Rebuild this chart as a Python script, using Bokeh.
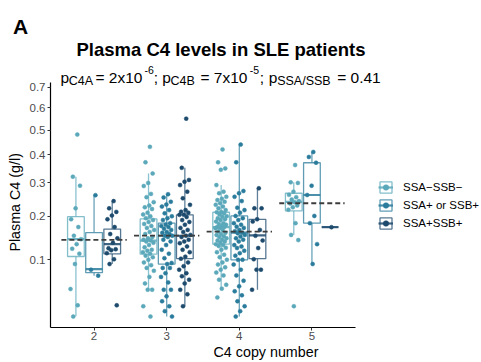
import numpy as np
from bokeh.embed import file_html
from bokeh.models import (ColumnDataSource, CustomJSTickFormatter, FixedTicker, Label,
                          Legend, LegendItem, Range1d)
from bokeh.plotting import figure
from bokeh.resources import INLINE

copy_numbers = [2, 3, 4, 5]
group_labels = ["SSA\u2212SSB\u2212", "SSA+ or SSB+", "SSA+SSB+"]
y_tick_values = [0.1, 0.2, 0.3, 0.4, 0.5, 0.6, 0.7]

# Plasma C4 (g/l) of individual patients, by antibody status and C4 copy number
neg_cn2 = [0.481, 0.321, 0.291, 0.222, 0.192, 0.172, 0.151, 0.143, 0.132, 0.122, 0.112,
           0.092, 0.052, 0.032, 0.021]
neg_cn3 = [0.431, 0.372, 0.332, 0.30, 0.29, 0.265, 0.255, 0.24, 0.23, 0.225, 0.22, 0.21,
           0.205, 0.20, 0.195, 0.19, 0.185, 0.18, 0.175, 0.17, 0.165, 0.16, 0.155, 0.148,
           0.145, 0.142, 0.14, 0.138, 0.135, 0.13, 0.125, 0.12, 0.118, 0.115, 0.112, 0.108,
           0.105, 0.10, 0.095, 0.09, 0.085, 0.08, 0.07, 0.06, 0.051, 0.051, 0.031, 0.021]
neg_cn4 = [0.421, 0.372, 0.35, 0.345, 0.293, 0.272, 0.267, 0.256, 0.25, 0.246, 0.241, 0.237,
           0.232, 0.227, 0.222, 0.217, 0.212, 0.211, 0.208, 0.205, 0.2, 0.199, 0.195, 0.192,
           0.19, 0.186, 0.182, 0.18, 0.178, 0.175, 0.172, 0.172, 0.17, 0.169, 0.165, 0.161,
           0.158, 0.155, 0.153, 0.15, 0.148, 0.145, 0.142, 0.14, 0.138, 0.135, 0.132, 0.13,
           0.128, 0.124, 0.12, 0.115, 0.11, 0.105, 0.1, 0.095, 0.091, 0.086, 0.082, 0.077,
           0.0724, 0.0656, 0.058, 0.0525, 0.041]
neg_cn5 = [0.362, 0.302, 0.3, 0.272, 0.262, 0.255, 0.248, 0.243, 0.24, 0.236, 0.23, 0.225,
           0.218, 0.182, 0.153, 0.141, 0.031]

one_cn2 = [0.261, 0.082, 0.072]
one_cn3 = [0.264, 0.254, 0.241, 0.233, 0.227, 0.217, 0.208, 0.200, 0.195, 0.19, 0.182, 0.178,
           0.175, 0.172, 0.168, 0.165, 0.16, 0.158, 0.155, 0.151, 0.151, 0.148, 0.142, 0.138,
           0.13, 0.12, 0.112, 0.103, 0.094, 0.092, 0.085, 0.085, 0.076, 0.07, 0.0615, 0.051,
           0.051, 0.0424, 0.0365, 0.031, 0.026, 0.021]
one_cn4 = [0.44, 0.372, 0.274, 0.267, 0.256, 0.243, 0.224, 0.217, 0.21, 0.201, 0.195, 0.19,
           0.182, 0.178, 0.173, 0.17, 0.165, 0.162, 0.158, 0.157, 0.153, 0.149, 0.145, 0.142,
           0.138, 0.13, 0.127, 0.1235, 0.118, 0.113, 0.108, 0.1, 0.0999, 0.091, 0.082, 0.0724,
           0.064, 0.0557, 0.0489, 0.0437, 0.0365, 0.031, 0.026, 0.021]
one_cn5 = [0.411, 0.392, 0.3705, 0.291, 0.2615, 0.201, 0.182, 0.132, 0.092]

both_cn2 = [0.243, 0.222, 0.212, 0.202, 0.192, 0.172, 0.155, 0.145, 0.135, 0.123, 0.121,
            0.119, 0.113, 0.101, 0.092, 0.032]
both_cn3 = [0.55, 0.352, 0.31, 0.304, 0.293, 0.272, 0.2515, 0.232, 0.217, 0.2126, 0.21, 0.204,
            0.204, 0.198, 0.19, 0.185, 0.178, 0.17, 0.165, 0.16, 0.153, 0.151, 0.148, 0.142,
            0.138, 0.134, 0.127, 0.12, 0.115, 0.106, 0.102, 0.095, 0.088, 0.082, 0.076, 0.071,
            0.0656, 0.06, 0.051, 0.045, 0.031]
both_cn4 = [0.2825, 0.222, 0.222, 0.192, 0.186, 0.165, 0.151, 0.14, 0.1235, 0.101, 0.082,
            0.082, 0.051]
both_cn5 = [0.1717]

# Box-plot summaries (g/l), one entry per copy number 2..5
neg_lower = [0.0213, 0.051, 0.0525, 0.153]
neg_q1 = [0.1063, 0.111, 0.132, 0.2147]
neg_median = [0.143, 0.140, 0.172, 0.241]
neg_q3 = [0.199, 0.193, 0.211, 0.267]
neg_upper = [0.321, 0.332, 0.293, 0.302]

one_lower = [0.0719, 0.021, 0.021, 0.092]
one_q1 = [0.0768, 0.092, 0.0999, 0.182]
one_median = [0.083, 0.151, 0.1585, 0.2615]
one_q3 = [0.1585, 0.182, 0.201, 0.3705]
one_upper = [0.261, 0.264, 0.44, 0.411]

both_lower = [0.092, 0.031, 0.051, 0.1717]
both_q1 = [0.1117, 0.102, 0.102, 0.1717]
both_median = [0.132, 0.151, 0.152, 0.1717]
both_q3 = [0.167, 0.204, 0.192, 0.1717]
both_upper = [0.243, 0.352, 0.2825, 0.1717]

# Median of all patients with a given copy number
overall_median = [0.1416, 0.1515, 0.161, 0.2367]

points = [[neg_cn2, neg_cn3, neg_cn4, neg_cn5],
          [one_cn2, one_cn3, one_cn4, one_cn5],
          [both_cn2, both_cn3, both_cn4, both_cn5]]
boxes = [(neg_lower, neg_q1, neg_median, neg_q3, neg_upper),
         (one_lower, one_q1, one_median, one_q3, one_upper),
         (both_lower, both_q1, both_median, both_q3, both_upper)]

colors = ["#5aa8ba", "#2b7c9c", "#1d4a6d"]
dodge = [-0.25, 0.0, 0.25]
box_width = 0.23
jitter_width = 0.08
FONT = "Liberation Sans"

sq = np.sqrt  # the value axis uses a square-root scale

# Panel extent: x 1.4..5.6 and sqrt(C4) 0.112..0.851. The frame is stretched to the
# right edge and up to the tag strip so that titles and legend can sit inside it.
W, H = 481, 362
FL, FB, TOP = 50, 328, 37
X0, X1 = 1.4, 5.6
Y0, Y1 = 0.112, 0.851
XPU = (355 - FL) / (X1 - X0)
YPU = (FB - 82) / (Y1 - Y0)

p = figure(width=W, height=H, output_backend="svg", toolbar_location=None,
           x_range=Range1d(X0, X0 + (W - FL) / XPU),
           y_range=Range1d(Y0, Y0 + (FB - TOP) / YPU),
           min_border_left=FL, min_border_right=0, min_border_top=TOP,
           min_border_bottom=H - FB)
p.outline_line_color = None
p.xgrid.visible = False
p.ygrid.visible = False
p.background_fill_color = "white"
p.border_fill_color = "white"

# panel tag
p.title.text = "A"
p.title.text_font = FONT
p.title.text_font_size = "21px"
p.title.text_font_style = "bold"
p.title.text_color = "black"
p.title.align = "left"
p.title.offset = 12.5 - FL
p.title.standoff = 0

legend_items = []
for k in range(3):
    lower, q1, med, q3, upper = boxes[k]
    xs = [c + dodge[k] for c in copy_numbers]
    src = ColumnDataSource(dict(
        x=xs,
        left=[x - box_width / 2 for x in xs],
        right=[x + box_width / 2 for x in xs],
        lo=sq(lower), q1=sq(q1), med=sq(med), q3=sq(q3), hi=sq(upper)))
    p.segment(x0="x", y0="q3", x1="x", y1="hi", source=src, line_color=colors[k],
              line_alpha=0.7, line_width=1.3)
    p.segment(x0="x", y0="lo", x1="x", y1="q1", source=src, line_color=colors[k],
              line_alpha=0.7, line_width=1.3)
    box_r = p.vbar(x="x", width=box_width, bottom="q1", top="q3", source=src,
                   fill_color="white", line_color=colors[k], line_alpha=0.75,
                   line_width=1.3)
    med_r = p.segment(x0="left", y0="med", x1="right", y1="med", source=src,
                      line_color=colors[k], line_alpha=0.85, line_width=2.2)

    # jittered patients: deterministic golden-ratio spread across the box
    px, py = [], []
    for c, vals in zip(copy_numbers, points[k]):
        for i, v in enumerate(vals):
            frac = ((i + 1) * 0.6180339887) % 1.0
            px.append(c + dodge[k] + (frac - 0.5) * 2 * jitter_width)
            py.append(float(sq(v)))
    pts_r = p.scatter(px, py, size=4, fill_color=colors[k], line_color=colors[k],
                      line_width=0.5)
    legend_items.append(LegendItem(label=group_labels[k], renderers=[box_r, med_r, pts_r]))

# dashed line: median of each copy-number group
p.segment(x0=[c - 0.45 for c in copy_numbers], x1=[c + 0.45 for c in copy_numbers],
          y0=sq(overall_median), y1=sq(overall_median), line_color="#3c3c3c",
          line_width=1.8, line_dash="5 3")

# axes
p.xaxis.ticker = FixedTicker(ticks=copy_numbers)
p.yaxis.ticker = FixedTicker(ticks=[float(sq(v)) for v in y_tick_values])
p.yaxis.formatter = CustomJSTickFormatter(code="return (tick*tick).toFixed(1);")
p.xaxis.bounds = (X0, X1)
p.yaxis.bounds = (Y0, Y1)
p.xaxis.axis_label = "C4 copy number"
# the y title is centred on the stretched frame; trailing no-break spaces move it
# to the middle of the value axis
p.yaxis.axis_label = "Plasma C4 (g/l)" + "\u00a0" * 10
for ax in (p.xaxis[0], p.yaxis[0]):
    ax.axis_line_color = "black"
    ax.axis_line_width = 1.2
    ax.major_tick_line_color = "#333333"
    ax.major_tick_out = 3
    ax.major_tick_in = 0
    ax.minor_tick_line_color = None
    ax.major_label_text_font = FONT
    ax.major_label_text_font_size = "11.5px"
    ax.major_label_text_color = "#4d4d4d"
    ax.axis_label_text_font = FONT
    ax.axis_label_text_font_size = "14.3px"
    ax.axis_label_text_font_style = "normal"
    ax.axis_label_text_color = "black"
p.xaxis.major_label_standoff = 1
p.xaxis.axis_label_standoff = 1
p.yaxis.major_label_standoff = 2
p.yaxis.axis_label_standoff = 4

legend = Legend(items=legend_items, location=(378 - FL, FB - 231))
legend.glyph_width = 15
legend.glyph_height = 14
legend.label_height = 14
legend.spacing = 4
legend.padding = 0
legend.margin = 0
legend.label_standoff = 10
legend.border_line_alpha = 0
legend.background_fill_alpha = 0
legend.label_text_font = FONT
legend.label_text_font_size = "11.5px"
legend.label_text_color = "black"
p.add_layout(legend)


def add_text(text, cx, cy, size, bold=False):
    p.add_layout(Label(x=cx - FL, y=FB - cy, x_units="screen", y_units="screen",
                       text=text, text_font=FONT, text_font_size=f"{size}px",
                       text_font_style="bold" if bold else "normal",
                       text_color="black", text_baseline="alphabetic",
                       text_align="left"))


add_text("Plasma C4 levels in SLE patients", 76, 50, 18.5, bold=True)
MAIN, SUB, SUP = 15.5, 12.5, 10.5
BASE, SUB_BASE, SUP_BASE = 78, 81, 70.5
add_text("p", 60, BASE, MAIN)
add_text("C4A", 68.3, SUB_BASE, SUB)
add_text("= 2x10", 95, BASE, MAIN)
add_text("-6", 144, SUP_BASE, SUP)
add_text(";", 153.3, BASE, MAIN)
add_text("p", 161.7, BASE, MAIN)
add_text("C4B", 170, SUB_BASE, SUB)
add_text("= 7x10", 200, BASE, MAIN)
add_text("-5", 249.3, SUP_BASE, SUP)
add_text(";", 259.3, BASE, MAIN)
add_text("p", 268.3, BASE, MAIN)
add_text("SSA/SSB", 276.7, SUB_BASE, SUB)
add_text("= 0.41", 336.7, BASE, MAIN)

open("out.html", "w").write(file_html(p, INLINE))
